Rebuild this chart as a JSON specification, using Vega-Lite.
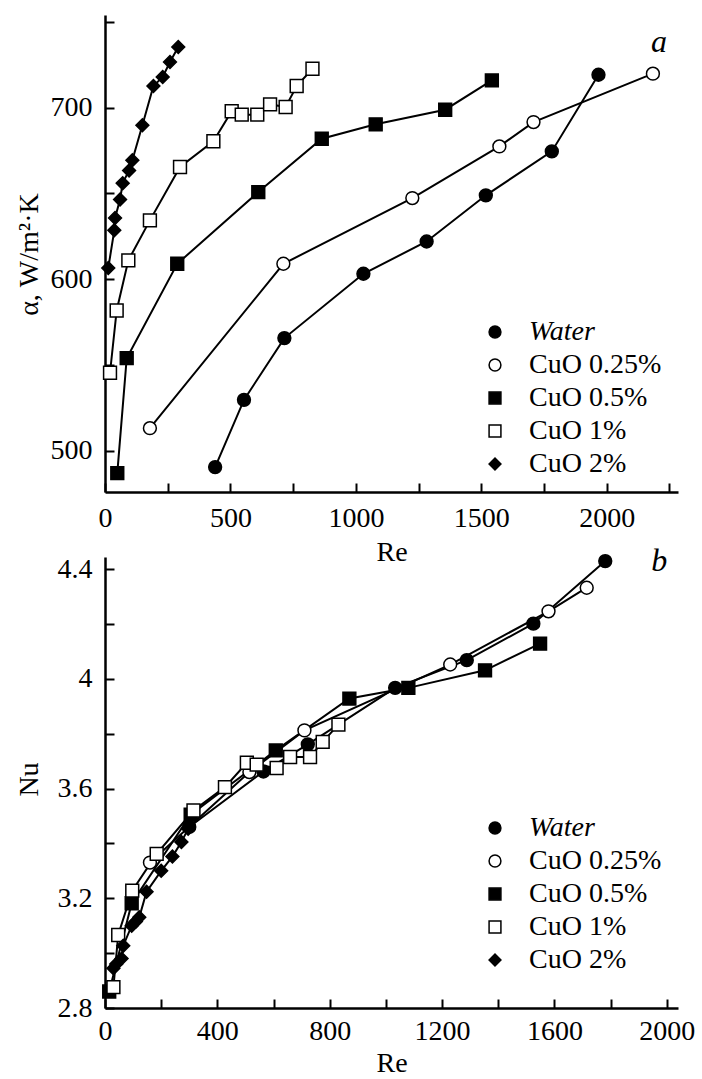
{
  "$schema": "https://vega.github.io/schema/vega-lite/v6.json",
  "background": "white",
  "padding": {"left": 15, "top": 7, "right": 5, "bottom": 0},
  "bounds": "flush",
  "spacing": 65,
  "datasets": {
    "top": [
      {"series": "Water", "Re": 439, "alpha": 490.5},
      {"series": "Water", "Re": 554, "alpha": 529.7},
      {"series": "Water", "Re": 715, "alpha": 565.7},
      {"series": "Water", "Re": 1030, "alpha": 603.2},
      {"series": "Water", "Re": 1282, "alpha": 622},
      {"series": "Water", "Re": 1518, "alpha": 648.9},
      {"series": "Water", "Re": 1781, "alpha": 674.5},
      {"series": "Water", "Re": 1967, "alpha": 719.2},
      {"series": "CuO 0.25%", "Re": 179, "alpha": 513.2},
      {"series": "CuO 0.25%", "Re": 711, "alpha": 609},
      {"series": "CuO 0.25%", "Re": 1225, "alpha": 647.3},
      {"series": "CuO 0.25%", "Re": 1572, "alpha": 677.4},
      {"series": "CuO 0.25%", "Re": 1708, "alpha": 691.6},
      {"series": "CuO 0.25%", "Re": 2184, "alpha": 719.8},
      {"series": "CuO 0.5%", "Re": 49, "alpha": 487},
      {"series": "CuO 0.5%", "Re": 86.5, "alpha": 554},
      {"series": "CuO 0.5%", "Re": 288, "alpha": 609},
      {"series": "CuO 0.5%", "Re": 611, "alpha": 650.8},
      {"series": "CuO 0.5%", "Re": 864, "alpha": 681.9},
      {"series": "CuO 0.5%", "Re": 1079, "alpha": 690.3},
      {"series": "CuO 0.5%", "Re": 1356, "alpha": 698.8},
      {"series": "CuO 0.5%", "Re": 1542, "alpha": 715.9},
      {"series": "CuO 1%", "Re": 20, "alpha": 545.5},
      {"series": "CuO 1%", "Re": 46.5, "alpha": 581.8},
      {"series": "CuO 1%", "Re": 93, "alpha": 611},
      {"series": "CuO 1%", "Re": 179, "alpha": 634.3},
      {"series": "CuO 1%", "Re": 299, "alpha": 665.4},
      {"series": "CuO 1%", "Re": 432, "alpha": 680.4},
      {"series": "CuO 1%", "Re": 505, "alpha": 697.9},
      {"series": "CuO 1%", "Re": 545, "alpha": 695.9},
      {"series": "CuO 1%", "Re": 607, "alpha": 695.9},
      {"series": "CuO 1%", "Re": 658, "alpha": 701.9},
      {"series": "CuO 1%", "Re": 720, "alpha": 700.4},
      {"series": "CuO 1%", "Re": 764, "alpha": 712.6},
      {"series": "CuO 1%", "Re": 827, "alpha": 722.7},
      {"series": "CuO 2%", "Re": 13, "alpha": 606.5},
      {"series": "CuO 2%", "Re": 37, "alpha": 628.5},
      {"series": "CuO 2%", "Re": 40, "alpha": 635.7},
      {"series": "CuO 2%", "Re": 60, "alpha": 646.5},
      {"series": "CuO 2%", "Re": 70.6, "alpha": 656},
      {"series": "CuO 2%", "Re": 96, "alpha": 663.4},
      {"series": "CuO 2%", "Re": 109, "alpha": 669.3},
      {"series": "CuO 2%", "Re": 149, "alpha": 689.7},
      {"series": "CuO 2%", "Re": 193, "alpha": 712.6},
      {"series": "CuO 2%", "Re": 230, "alpha": 717.9},
      {"series": "CuO 2%", "Re": 259, "alpha": 726.6},
      {"series": "CuO 2%", "Re": 292, "alpha": 735.4}
    ],
    "bottom": [
      {"series": "Water", "Re": 300, "Nu": 3.46},
      {"series": "Water", "Re": 564, "Nu": 3.662},
      {"series": "Water", "Re": 722, "Nu": 3.761},
      {"series": "Water", "Re": 1033, "Nu": 3.967},
      {"series": "Water", "Re": 1288, "Nu": 4.068},
      {"series": "Water", "Re": 1525, "Nu": 4.201},
      {"series": "Water", "Re": 1781, "Nu": 4.429},
      {"series": "CuO 0.25%", "Re": 160, "Nu": 3.33},
      {"series": "CuO 0.25%", "Re": 514, "Nu": 3.66},
      {"series": "CuO 0.25%", "Re": 710, "Nu": 3.812},
      {"series": "CuO 0.25%", "Re": 1229, "Nu": 4.052},
      {"series": "CuO 0.25%", "Re": 1579, "Nu": 4.246},
      {"series": "CuO 0.25%", "Re": 1715, "Nu": 4.332},
      {"series": "CuO 0.5%", "Re": 15, "Nu": 2.86},
      {"series": "CuO 0.5%", "Re": 95, "Nu": 3.182},
      {"series": "CuO 0.5%", "Re": 305, "Nu": 3.505},
      {"series": "CuO 0.5%", "Re": 608, "Nu": 3.739},
      {"series": "CuO 0.5%", "Re": 870, "Nu": 3.928},
      {"series": "CuO 0.5%", "Re": 1080, "Nu": 3.967},
      {"series": "CuO 0.5%", "Re": 1353, "Nu": 4.031},
      {"series": "CuO 0.5%", "Re": 1549, "Nu": 4.128},
      {"series": "CuO 1%", "Re": 30, "Nu": 2.876},
      {"series": "CuO 1%", "Re": 47, "Nu": 3.066},
      {"series": "CuO 1%", "Re": 97, "Nu": 3.228},
      {"series": "CuO 1%", "Re": 184, "Nu": 3.362},
      {"series": "CuO 1%", "Re": 315, "Nu": 3.52},
      {"series": "CuO 1%", "Re": 427, "Nu": 3.605},
      {"series": "CuO 1%", "Re": 505, "Nu": 3.694},
      {"series": "CuO 1%", "Re": 540, "Nu": 3.687},
      {"series": "CuO 1%", "Re": 611, "Nu": 3.675},
      {"series": "CuO 1%", "Re": 659, "Nu": 3.715},
      {"series": "CuO 1%", "Re": 730, "Nu": 3.715},
      {"series": "CuO 1%", "Re": 775, "Nu": 3.77},
      {"series": "CuO 1%", "Re": 831, "Nu": 3.833},
      {"series": "CuO 2%", "Re": 30, "Nu": 2.945},
      {"series": "CuO 2%", "Re": 40, "Nu": 2.96},
      {"series": "CuO 2%", "Re": 59, "Nu": 2.98},
      {"series": "CuO 2%", "Re": 65, "Nu": 3.027},
      {"series": "CuO 2%", "Re": 95, "Nu": 3.1},
      {"series": "CuO 2%", "Re": 110, "Nu": 3.115},
      {"series": "CuO 2%", "Re": 122, "Nu": 3.131},
      {"series": "CuO 2%", "Re": 148, "Nu": 3.224},
      {"series": "CuO 2%", "Re": 200, "Nu": 3.3},
      {"series": "CuO 2%", "Re": 240, "Nu": 3.352},
      {"series": "CuO 2%", "Re": 272, "Nu": 3.405},
      {"series": "CuO 2%", "Re": 296, "Nu": 3.453}
    ],
    "labtop": [{"Re": 2208, "alpha": 732.7, "label": "a"}],
    "labbot": [{"Re": 1973, "Nu": 4.393, "label": "b"}]
  },
  "vconcat": [
    {
      "width": 573,
      "height": 477,
      "layer": [
        {
          "data": {"name": "top"},
          "mark": {"type": "line", "color": "black", "strokeWidth": 2},
          "encoding": {
            "x": {"field": "Re", "type": "quantitative",
              "scale": {"domain": [0, 2284], "nice": false, "zero": false},
              "axis": {"title": "Re", "values": [0, 250, 500, 750, 1000, 1250, 1500, 1750, 2000, 2250],
                "labelExpr": "datum.value % 500 === 0 ? format(datum.value, 'd') : ''",
                "labelPadding": 21, "titleY": 68, "titleBaseline": "alphabetic"}},
            "y": {"field": "alpha", "type": "quantitative",
              "scale": {"domain": [476, 754], "nice": false, "zero": false},
              "axis": {"title": "α, W/m²·K", "values": [500, 550, 600, 650, 700, 750],
                "labelExpr": "datum.value % 100 === 0 ? format(datum.value, 'd') : ''",
                "labelPadding": 22, "titleX": -68, "titleY": 239, "titleBaseline": "alphabetic", "titleAngle": -90}},
            "detail": {"field": "series"}
          }
        },
        {
          "data": {"name": "top"},
          "mark": {"type": "point", "filled": true, "strokeWidth": 1.5, "opacity": 1, "size": 165},
          "encoding": {
            "x": {"field": "Re", "type": "quantitative"},
            "y": {"field": "alpha", "type": "quantitative"},
            "shape": {"field": "series", "type": "nominal",
              "scale": {"domain": ["Water", "CuO 0.25%", "CuO 0.5%", "CuO 1%", "CuO 2%"], "range": ["circle", "circle", "square", "square", "diamond"]},
              "legend": {"title": null, "orient": "none", "legendX": 376, "legendY": 303, "padding": 0,
                "labelFont": "Liberation Serif", "labelFontSize": 28, "labelColor": "black", "labelLimit": 400,
                "labelFontStyle": {"expr": "datum && datum.label == 'Water' ? 'italic' : 'normal'"},
                "symbolSize": 140, "symbolStrokeWidth": 1.5, "labelOffset": 20, "rowPadding": 5}},
            "fill": {"field": "series", "type": "nominal",
              "scale": {"domain": ["Water", "CuO 0.25%", "CuO 0.5%", "CuO 1%", "CuO 2%"], "range": ["black", "white", "black", "white", "black"]},
              "legend": {"title": null, "orient": "none", "legendX": 376, "legendY": 303, "padding": 0,
                "labelFont": "Liberation Serif", "labelFontSize": 28, "labelColor": "black", "labelLimit": 400,
                "labelFontStyle": {"expr": "datum && datum.label == 'Water' ? 'italic' : 'normal'"},
                "symbolSize": 140, "symbolStrokeWidth": 1.5, "labelOffset": 20, "rowPadding": 5}},
            "stroke": {"field": "series", "type": "nominal",
              "scale": {"domain": ["Water", "CuO 0.25%", "CuO 0.5%", "CuO 1%", "CuO 2%"], "range": ["black", "black", "black", "black", "black"]},
              "legend": {"title": null, "orient": "none", "legendX": 376, "legendY": 303, "padding": 0,
                "labelFont": "Liberation Serif", "labelFontSize": 28, "labelColor": "black", "labelLimit": 400,
                "labelFontStyle": {"expr": "datum && datum.label == 'Water' ? 'italic' : 'normal'"},
                "symbolSize": 140, "symbolStrokeWidth": 1.5, "labelOffset": 20, "rowPadding": 5}}
          }
        },
        {
          "data": {"name": "labtop"},
          "mark": {"type": "text", "font": "Liberation Serif", "fontStyle": "italic", "fontSize": 32, "baseline": "alphabetic", "align": "center", "color": "black"},
          "encoding": {
            "x": {"field": "Re", "type": "quantitative"},
            "y": {"field": "alpha", "type": "quantitative"},
            "text": {"field": "label"}
          }
        }
      ]
    },
    {
      "width": 573,
      "height": 451,
      "layer": [
        {
          "data": {"name": "bottom"},
          "mark": {"type": "line", "color": "black", "strokeWidth": 2},
          "encoding": {
            "x": {"field": "Re", "type": "quantitative",
              "scale": {"domain": [0, 2040], "nice": false, "zero": false},
              "axis": {"title": "Re", "values": [0, 200, 400, 600, 800, 1000, 1200, 1400, 1600, 1800, 2000],
                "labelExpr": "datum.value % 400 === 0 ? format(datum.value, 'd') : ''",
                "labelPadding": 18, "titleY": 63, "titleBaseline": "alphabetic"}},
            "y": {"field": "Nu", "type": "quantitative",
              "scale": {"domain": [2.8, 4.444], "nice": false, "zero": false},
              "axis": {"title": "Nu", "values": [2.8, 3.0, 3.2, 3.4, 3.6, 3.8, 4.0, 4.2, 4.4],
                "labelExpr": "round(datum.value * 10) % 4 === 0 ? format(datum.value, '~g') : ''",
                "labelPadding": 22, "titleX": -68, "titleY": 222, "titleBaseline": "alphabetic", "titleAngle": -90}},
            "detail": {"field": "series"}
          }
        },
        {
          "data": {"name": "bottom"},
          "mark": {"type": "point", "filled": true, "strokeWidth": 1.5, "opacity": 1, "size": 165},
          "encoding": {
            "x": {"field": "Re", "type": "quantitative"},
            "y": {"field": "Nu", "type": "quantitative"},
            "shape": {"field": "series", "type": "nominal",
              "scale": {"domain": ["Water", "CuO 0.25%", "CuO 0.5%", "CuO 1%", "CuO 2%"], "range": ["circle", "circle", "square", "square", "diamond"]},
              "legend": {"title": null, "orient": "none", "legendX": 376, "legendY": 257, "padding": 0,
                "labelFont": "Liberation Serif", "labelFontSize": 28, "labelColor": "black", "labelLimit": 400,
                "labelFontStyle": {"expr": "datum && datum.label == 'Water' ? 'italic' : 'normal'"},
                "symbolSize": 140, "symbolStrokeWidth": 1.5, "labelOffset": 20, "rowPadding": 5}},
            "fill": {"field": "series", "type": "nominal",
              "scale": {"domain": ["Water", "CuO 0.25%", "CuO 0.5%", "CuO 1%", "CuO 2%"], "range": ["black", "white", "black", "white", "black"]},
              "legend": {"title": null, "orient": "none", "legendX": 376, "legendY": 257, "padding": 0,
                "labelFont": "Liberation Serif", "labelFontSize": 28, "labelColor": "black", "labelLimit": 400,
                "labelFontStyle": {"expr": "datum && datum.label == 'Water' ? 'italic' : 'normal'"},
                "symbolSize": 140, "symbolStrokeWidth": 1.5, "labelOffset": 20, "rowPadding": 5}},
            "stroke": {"field": "series", "type": "nominal",
              "scale": {"domain": ["Water", "CuO 0.25%", "CuO 0.5%", "CuO 1%", "CuO 2%"], "range": ["black", "black", "black", "black", "black"]},
              "legend": {"title": null, "orient": "none", "legendX": 376, "legendY": 257, "padding": 0,
                "labelFont": "Liberation Serif", "labelFontSize": 28, "labelColor": "black", "labelLimit": 400,
                "labelFontStyle": {"expr": "datum && datum.label == 'Water' ? 'italic' : 'normal'"},
                "symbolSize": 140, "symbolStrokeWidth": 1.5, "labelOffset": 20, "rowPadding": 5}}
          }
        },
        {
          "data": {"name": "labbot"},
          "mark": {"type": "text", "font": "Liberation Serif", "fontStyle": "italic", "fontSize": 32, "baseline": "alphabetic", "align": "center", "color": "black"},
          "encoding": {
            "x": {"field": "Re", "type": "quantitative"},
            "y": {"field": "Nu", "type": "quantitative"},
            "text": {"field": "label"}
          }
        }
      ]
    }
  ],
  "resolve": {
    "scale": {"x": "independent", "y": "independent", "shape": "independent", "fill": "independent", "stroke": "independent"},
    "legend": {"shape": "independent", "fill": "independent", "stroke": "independent"}
  },
  "config": {
    "view": {"stroke": null},
    "legend": {
      "labelFont": "Liberation Serif", "labelFontSize": 28, "labelColor": "black"
    },
    "axis": {
      "domainColor": "black", "domainWidth": 2.5, "tickColor": "black", "tickWidth": 2, "tickSize": -9,
      "labelFont": "Liberation Serif", "labelFontSize": 28, "labelColor": "black",
      "titleFont": "Liberation Serif", "titleFontSize": 28, "titleFontWeight": "normal", "titleColor": "black",
      "grid": false, "labelFlush": false, "labelOverlap": false
    }
  }
}
